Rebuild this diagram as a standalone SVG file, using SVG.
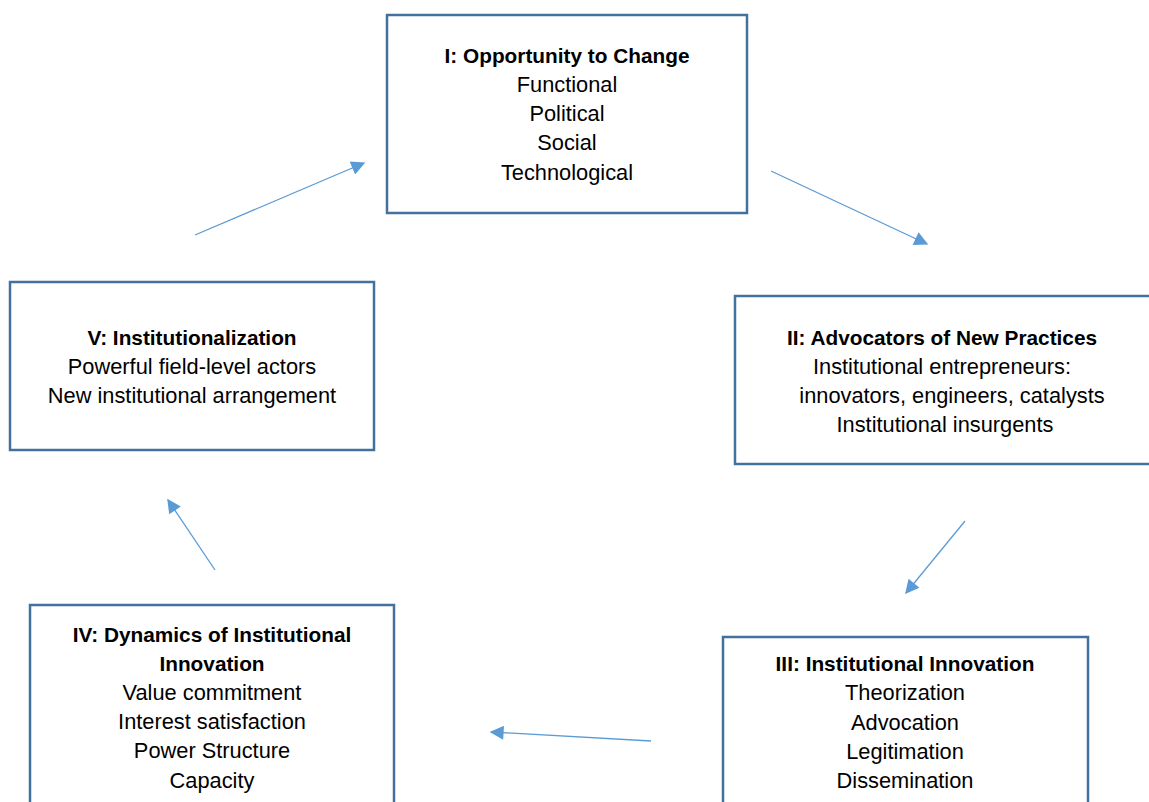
<svg xmlns="http://www.w3.org/2000/svg" width="1149" height="802" viewBox="0 0 1149 802">
<style>
.box{fill:#fff;stroke:#41719C;stroke-width:2.5}
text{font-family:"Liberation Sans",Arial,sans-serif;font-size:21.8px;fill:#000;text-anchor:middle}
.t{font-weight:bold;font-size:20.8px}
.c{stroke:#5B9BD5;stroke-width:1.3;fill:none;marker-end:url(#ah)}
</style>
<defs>
<marker id="ah" viewBox="0 0 10 10" refX="9" refY="5" markerWidth="17" markerHeight="14" markerUnits="userSpaceOnUse" orient="auto">
<path d="M0,0 L10,5 L0,10 z" fill="#5B9BD5"/>
</marker>
</defs>
<rect width="1149" height="802" fill="#fff"/>
<g id="connectors">
<line class="c" x1="771" y1="171" x2="927" y2="244"/>
<line class="c" x1="965" y1="521" x2="906" y2="593"/>
<line class="c" x1="651" y1="741" x2="491" y2="732"/>
<line class="c" x1="215" y1="570" x2="168" y2="500"/>
<line class="c" x1="195" y1="235" x2="364" y2="163"/>
</g>
<g id="node1">
<rect class="box" x="387" y="15" width="360" height="198"/>
<text class="t" x="567" y="63">I: Opportunity to Change</text>
<text x="567" y="92">Functional</text>
<text x="567" y="121">Political</text>
<text x="567" y="150">Social</text>
<text x="567" y="180">Technological</text>
</g>
<g id="node2">
<rect class="box" x="735" y="296" width="420" height="168"/>
<text class="t" x="942" y="345">II: Advocators of New Practices</text>
<text x="942" y="374">Institutional entrepreneurs:</text>
<text x="952" y="403">innovators, engineers, catalysts</text>
<text x="945" y="432">Institutional insurgents</text>
</g>
<g id="node3">
<rect class="box" x="723" y="637" width="365" height="175"/>
<text class="t" x="905" y="671">III: Institutional Innovation</text>
<text x="905" y="700">Theorization</text>
<text x="905" y="730">Advocation</text>
<text x="905" y="759">Legitimation</text>
<text x="905" y="788">Dissemination</text>
</g>
<g id="node4">
<rect class="box" x="30" y="605" width="364" height="207"/>
<text class="t" x="212" y="642">IV: Dynamics of Institutional</text>
<text class="t" x="212" y="671">Innovation</text>
<text x="212" y="700">Value commitment</text>
<text x="212" y="729">Interest satisfaction</text>
<text x="212" y="758">Power Structure</text>
<text x="212" y="788">Capacity</text>
</g>
<g id="node5">
<rect class="box" x="10" y="282" width="364" height="168"/>
<text class="t" x="192" y="345">V: Institutionalization</text>
<text x="192" y="374">Powerful field-level actors</text>
<text x="192" y="403">New institutional arrangement</text>
</g>
</svg>
